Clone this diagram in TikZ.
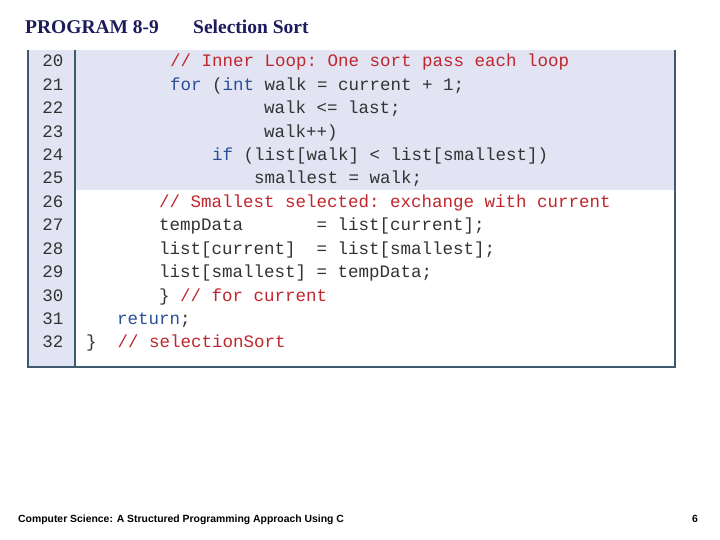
\documentclass[tikz,border=0pt]{standalone}
\usepackage{fontspec}
\setmainfont{Liberation Serif}
\setsansfont{Liberation Sans}
\setmonofont{Liberation Mono}
\definecolor{bgl}{HTML}{E2E4F3}
\definecolor{frm}{HTML}{3E5A6E}
\definecolor{cmt}{HTML}{C0262D}
\definecolor{kw}{HTML}{2A4E96}
\definecolor{txt}{HTML}{333333}
\definecolor{ttl}{HTML}{1C1C5C}
\begin{document}
\begin{tikzpicture}[x=1pt,y=-1pt,
  code/.style={anchor=base west,inner sep=0pt,font=\fontsize{17.5}{20}\ttfamily,text=txt},
  num/.style={anchor=base,inner sep=0pt,font=\fontsize{17.5}{20}\ttfamily,text=txt}]
\useasboundingbox (0,0) rectangle (720,540);
\fill[white] (0,0) rectangle (720,540);
\fill[bgl] (28,50) rectangle (675,190);
\fill[bgl] (28,190) rectangle (75,367);
\draw[frm,line width=1.2pt] (28,50) -- (28,367) -- (675,367) -- (675,50);
\draw[frm,line width=1.5pt] (75,50) -- (75,367);
\node[anchor=base west,inner sep=0pt,font=\fontsize{19.5}{22}\bfseries,text=ttl] (t1) at (25,34) {PROGRAM 8-9};
\node[anchor=base west,inner sep=0pt,font=\fontsize{19.5}{22}\bfseries,text=ttl] (t2) at (193,34) {Selection Sort};
\foreach \n [count=\i from 0] in {20,...,32}
  \node[num] (n\n) at (53,67+23.4*\i) {\n};
\def\B#1{\textcolor{kw}{#1}}
\def\C#1{\textcolor{cmt}{#1}}
\node[code] (l20) at (170,67) {\C{// Inner Loop: One sort pass each loop}};
\node[code] (l21) at (170,90.4) {\B{for} (\B{int} walk = current + 1;};
\node[code] (l22) at (264,113.8) {walk <= last;};
\node[code] (l23) at (264,137.2) {walk++)};
\node[code] (l24) at (212,160.6) {\B{if} (list[walk] < list[smallest])};
\node[code] (l25) at (254,184) {smallest = walk;};
\node[code] (l26) at (159,207.4) {\C{// Smallest selected: exchange with current}};
\node[code] (l27) at (159,230.8) {tempData\ \ \ \ \ \ \ = list[current];};
\node[code] (l28) at (159,254.2) {list[current]\ \ = list[smallest];};
\node[code] (l29) at (159,277.6) {list[smallest] = tempData;};
\node[code] (l30) at (159,301) {\} \C{// for current}};
\node[code] (l31) at (117,324.4) {\B{return};};
\node[code] (l32) at (86,347.8) {\}\ \ \C{// selectionSort}};
\node[anchor=base west,inner sep=0pt,font=\fontsize{10.4}{12}\sffamily\bfseries] (f1) at (18,522) {Computer Science: A Structured Programming Approach Using C};
\node[anchor=base east,inner sep=0pt,font=\fontsize{10.4}{12}\sffamily\bfseries] (f2) at (698,522) {6};
\end{tikzpicture}
\end{document}
